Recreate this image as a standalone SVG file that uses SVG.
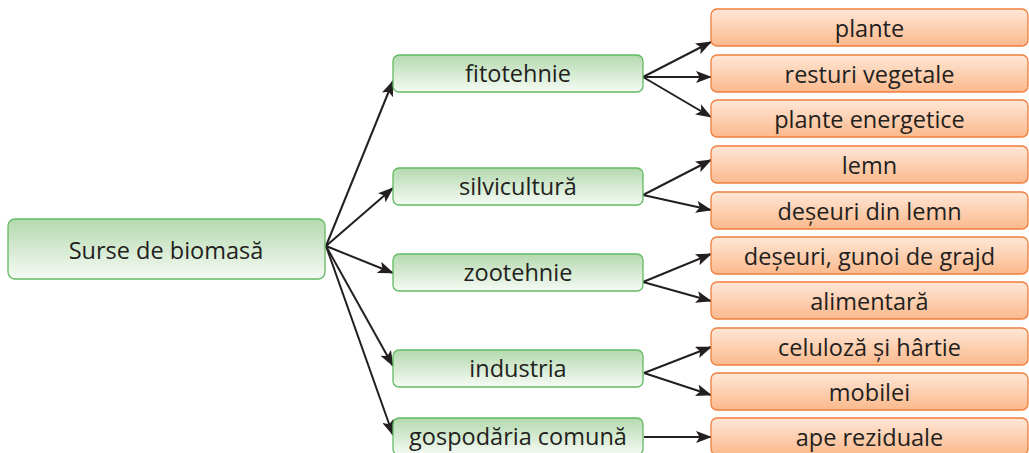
<svg xmlns="http://www.w3.org/2000/svg" width="1029" height="453" viewBox="0 0 1029 453">
<defs>
<linearGradient id="gg" x1="0" y1="0" x2="0" y2="1">
<stop offset="0" stop-color="#b4d9ae"/>
<stop offset="1" stop-color="#f6fbf5"/>
</linearGradient>
<linearGradient id="og" x1="0" y1="0" x2="0" y2="1">
<stop offset="0" stop-color="#fee7d7"/>
<stop offset="1" stop-color="#fbb98c"/>
</linearGradient>
<marker id="ah" viewBox="0 0 16 12" refX="15" refY="6" markerWidth="16" markerHeight="12" markerUnits="userSpaceOnUse" orient="auto">
<path d="M0,0 L16,6 L0,12 L3.5,6 Z" fill="#231f20"/>
</marker>
</defs>
<style>
.g{fill:url(#gg);stroke:#62bb62;stroke-width:1.3}
.o{fill:url(#og);stroke:#f07f3c;stroke-width:1.3}
text{font-family:"Open Sans","Liberation Sans",sans-serif;font-size:23.5px;fill:#231f20;text-anchor:middle}
.c line{stroke:#231f20;stroke-width:2;marker-end:url(#ah)}
</style>
<g class="c" id="connectors">
<line x1="326" y1="246" x2="393" y2="81"/>
<line x1="326" y1="246" x2="393" y2="188"/>
<line x1="326" y1="246" x2="393" y2="273"/>
<line x1="326" y1="246" x2="393" y2="366"/>
<line x1="326" y1="246" x2="393" y2="435"/>
<line x1="643" y1="77" x2="711" y2="42"/>
<line x1="643" y1="77" x2="711" y2="77"/>
<line x1="643" y1="77" x2="711" y2="117"/>
<line x1="643" y1="195" x2="711" y2="160"/>
<line x1="643" y1="195" x2="711" y2="210"/>
<line x1="643" y1="282" x2="711" y2="254"/>
<line x1="643" y1="282" x2="711" y2="301"/>
<line x1="644" y1="373" x2="711" y2="347"/>
<line x1="644" y1="373" x2="711" y2="395"/>
<line x1="644" y1="437" x2="711" y2="437"/>
</g>
<g id="n-main"><rect class="g" x="8" y="219" width="317" height="60" rx="7"/><text x="166" y="259">Surse de biomasă</text></g>
<g id="n-fito"><rect class="g" x="393" y="55" width="250" height="37" rx="6"/><text x="518" y="82">fitotehnie</text></g>
<g id="n-silvi"><rect class="g" x="393" y="168" width="250" height="37" rx="6"/><text x="518" y="195">silvicultură</text></g>
<g id="n-zoo"><rect class="g" x="393" y="254" width="250" height="37" rx="6"/><text x="518" y="281">zootehnie</text></g>
<g id="n-ind"><rect class="g" x="393" y="350" width="250" height="37" rx="6"/><text x="518" y="377">industria</text></g>
<g id="n-gosp"><rect class="g" x="393" y="418" width="250" height="37" rx="6"/><text x="518" y="445">gospodăria comună</text></g>
<g id="o1"><rect class="o" x="711" y="9" width="317" height="37" rx="6"/><text x="869.5" y="37">plante</text></g>
<g id="o2"><rect class="o" x="711" y="55" width="317" height="37" rx="6"/><text x="869.5" y="83">resturi vegetale</text></g>
<g id="o3"><rect class="o" x="711" y="100" width="317" height="37" rx="6"/><text x="869.5" y="128">plante energetice</text></g>
<g id="o4"><rect class="o" x="711" y="146" width="317" height="37" rx="6"/><text x="869.5" y="174">lemn</text></g>
<g id="o5"><rect class="o" x="711" y="192" width="317" height="37" rx="6"/><text x="869.5" y="220">deșeuri din lemn</text></g>
<g id="o6"><rect class="o" x="711" y="237" width="317" height="37" rx="6"/><text x="869.5" y="265">deșeuri, gunoi de grajd</text></g>
<g id="o7"><rect class="o" x="711" y="282" width="317" height="37" rx="6"/><text x="869.5" y="310">alimentară</text></g>
<g id="o8"><rect class="o" x="711" y="328" width="317" height="37" rx="6"/><text x="869.5" y="356">celuloză și hârtie</text></g>
<g id="o9"><rect class="o" x="711" y="373" width="317" height="37" rx="6"/><text x="869.5" y="401">mobilei</text></g>
<g id="o10"><rect class="o" x="711" y="418" width="317" height="37" rx="6"/><text x="869.5" y="446">ape reziduale</text></g>
</svg>
